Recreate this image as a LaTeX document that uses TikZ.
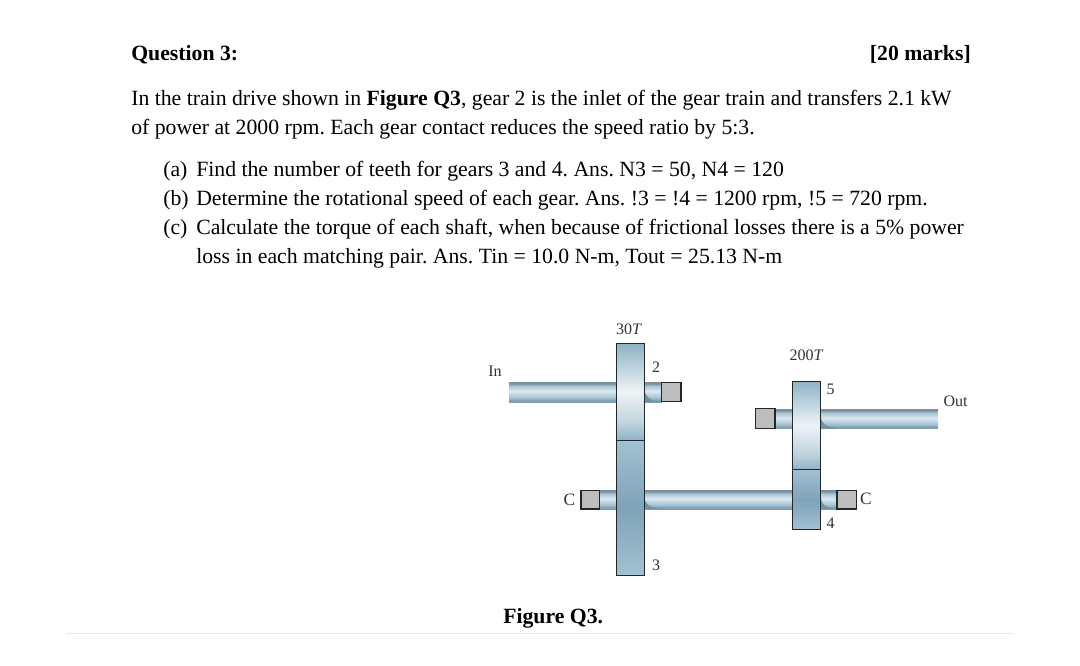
\documentclass[tikz,border=0pt]{standalone}
\usepackage{fontspec}
\setmainfont{Liberation Serif}
\definecolor{shaftdark}{HTML}{7F9FB2}
\definecolor{shaftmid}{HTML}{A5C3D3}
\definecolor{shaftlight}{HTML}{DCE9EF}
\definecolor{shaftedge}{HTML}{7C8F9B}
\definecolor{gearblue}{HTML}{8FB2C6}
\definecolor{gearpale}{HTML}{BFD4DF}
\definecolor{gearwhite}{HTML}{EEF3F6}
\definecolor{geardeep}{HTML}{7FA3B9}
\definecolor{gearlite}{HTML}{A3C1D1}
\definecolor{boxgrey}{HTML}{BDBDBD}
\definecolor{edgeblack}{HTML}{22272B}
\definecolor{labelgrey}{HTML}{333333}
\definecolor{rulegrey}{HTML}{E6E6E6}
\definecolor{shadowblue}{HTML}{6F92A8}
\pgfdeclareverticalshading{shaftshade}{100bp}{
 color(0bp)=(shaftdark); color(25bp)=(shaftdark); color(29bp)=(shaftdark); color(36bp)=(shaftmid);
 color(52bp)=(shaftlight); color(66bp)=(shaftmid); color(71bp)=(shaftedge); color(75bp)=(shaftedge); color(100bp)=(shaftedge)}
\pgfdeclareverticalshading{hubshade}{100bp}{
 color(0bp)=(gearblue); color(25bp)=(gearblue); color(34bp)=(gearpale); color(50bp)=(gearwhite);
 color(62bp)=(gearpale); color(75bp)=(gearblue); color(100bp)=(gearblue)}
\frenchspacing
\tikzset{
 body/.style={anchor=base west,inner sep=0pt,font=\fontsize{16.3pt}{20pt}\selectfont,text=black},
 lbl/.style={inner sep=0pt,font=\fontsize{12pt}{14pt}\selectfont,text=labelgrey},
 clbl/.style={inner sep=0pt,font=\fontsize{13pt}{15pt}\selectfont,text=labelgrey},
 shaftpart/.style={shading=shaftshade,draw=none},
 gearhub/.style={shading=hubshade,draw=edgeblack,line width=0.75pt},
 gearbody/.style={top color=gearlite,bottom color=gearlite,middle color=geardeep,draw=edgeblack,line width=0.75pt},
 bearing/.style={fill=boxgrey,draw=edgeblack,line width=0.85pt},
 fillet/.style={fill=shadowblue,draw=none}
}
\begin{document}
\begin{tikzpicture}[x=0.75pt,y=-0.75pt]
\useasboundingbox (0,0) rectangle (1080,666);
\fill[white] (0,0) rectangle (1080,666);
% text
\node[body] (title) at (131,60.5) {\textbf{Question 3:}};
\node[body,anchor=base east] (marks) at (971,60.5) {\textbf{[20 marks]}};
\node[body] (p1) at (131,106) {In the train drive shown in \textbf{Figure Q3}, gear 2 is the inlet of the gear train and transfers 2.1 kW};
\node[body] (p2) at (131,135) {of power at 2000 rpm. Each gear contact reduces the speed ratio by 5:3.};
\node[body] (a) at (163,177) {(a)};
\node[body] (at) at (196,177) {Find the number of teeth for gears 3 and 4. Ans. N3 = 50, N4 = 120};
\node[body] (b) at (163,206) {(b)};
\node[body] (bt) at (196,206) {Determine the rotational speed of each gear. Ans. !3 = !4 = 1200 rpm, !5 = 720 rpm.};
\node[body] (c) at (163,235) {(c)};
\node[body] (ct) at (196,235) {Calculate the torque of each shaft, when because of frictional losses there is a 5\% power};
\node[body] (ct2) at (196,264) {loss in each matching pair. Ans. Tin = 10.0 N-m, Tout = 25.13 N-m};
\node[body] (cap) at (503,623) {\textbf{Figure Q3.}};
% shafts
\path[shaftpart] (509,382) rectangle (616,402);
\path[shaftpart] (644,382) rectangle (662,402);
\path[shaftpart] (600,490) rectangle (616,509);
\path[shaftpart] (644,490) rectangle (792,509);
\path[shaftpart] (820,490) rectangle (837,509);
\path[shaftpart] (775,409) rectangle (792,428.5);
\path[shaftpart] (820,409) rectangle (938,428.5);
% fillets
\path[fillet] (644.5,389) .. controls (645,397) and (650,401) .. (661,402) -- (644.5,402) -- cycle;
\path[fillet] (644.5,497) .. controls (645,505) and (650,508) .. (662,509) -- (644.5,509) -- cycle;
\path[fillet] (821,497) .. controls (821,505) and (826,508) .. (837,509) -- (821,509) -- cycle;
\path[fillet] (821,416) .. controls (821,424) and (826,427) .. (838,428.5) -- (821,428.5) -- cycle;
% gears
\path[gearhub] (616,343.5) rectangle (644.3,440);
\path[gearbody] (616,440) rectangle (644.3,575);
\path[gearhub] (792.5,381) rectangle (820.7,469.5);
\path[gearbody] (792.5,469.5) rectangle (820.7,529.5);
% bearings
\path[bearing] (661.5,382.5) rectangle (681,401.5);
\path[bearing] (581,490.5) rectangle (599.7,509);
\path[bearing] (755.5,408.8) rectangle (775,428.3);
\path[bearing] (837,490.5) rectangle (856.7,509);
% labels
\node[lbl] (t30) at (629,329.5) {30\textit{T}};
\node[lbl] (t200) at (806.5,355.5) {200\textit{T}};
\node[lbl] (in) at (495,371) {In};
\node[lbl] (out) at (955.5,401.5) {Out};
\node[lbl] (n2) at (656,367) {2};
\node[lbl] (n3) at (656,565.5) {3};
\node[lbl] (n4) at (830.5,523) {4};
\node[lbl] (n5) at (830.5,389.5) {5};
\node[clbl] (cl) at (569.5,500) {C};
\node[clbl] (cr) at (866,498.5) {C};
% rule
\draw[rulegrey,line width=0.7pt] (66,633) -- (1013,633);
\end{tikzpicture}
\end{document}
